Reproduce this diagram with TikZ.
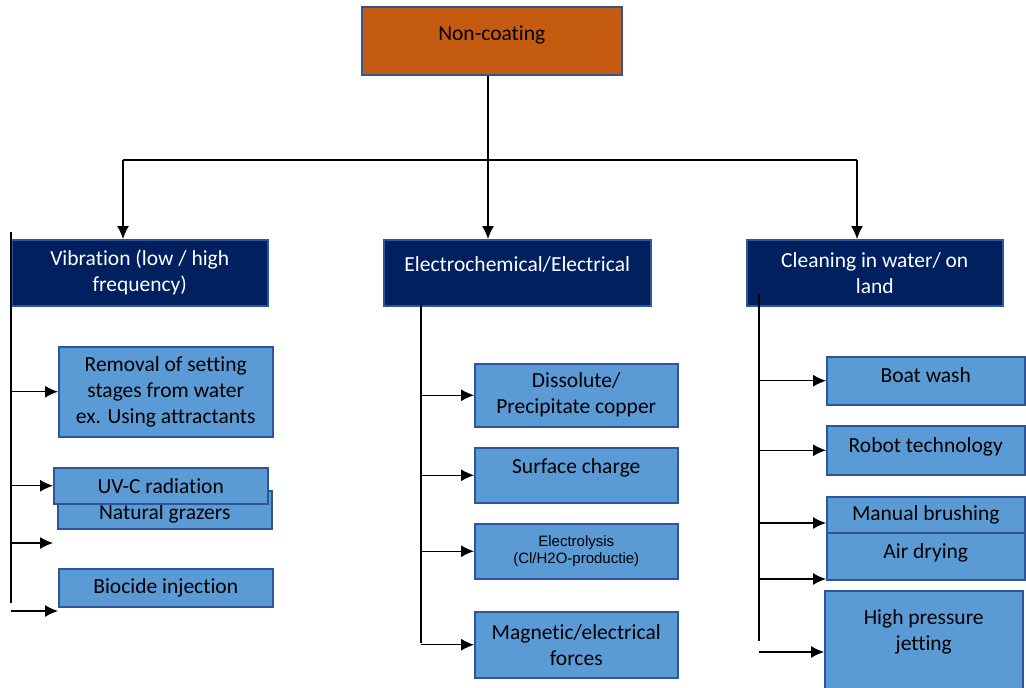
\documentclass[tikz,border=0pt]{standalone}
\usepackage{fontspec}
\setmainfont[Ligatures=NoCommon]{Carlito}
\newfontfamily\arialfont{Liberation Sans}
\usetikzlibrary{arrows.meta,positioning}

\definecolor{rootorange}{HTML}{C55A11}
\definecolor{navy}{HTML}{002060}
\definecolor{leafblue}{HTML}{5B9BD5}
\definecolor{boxline}{HTML}{2F5597}

\tikzset{
  box/.style={draw=boxline, line width=1.5pt, rectangle, anchor=north west,
    align=center, inner sep=0pt, font=\fontsize{21.5}{26}\selectfont},
  rootbox/.style={box, fill=rootorange, text=black},
  catbox/.style={box, fill=navy, text=white},
  leafbox/.style={box, fill=leafblue, text=black},
  ln/.style={line width=1.2pt},
  arr/.style={ln, -{Latex[length=13pt,width=12pt]}}
}

\begin{document}
\begin{tikzpicture}[x=1pt,y=-1pt]
        \path[fill=white,use as bounding box] (0,0) rectangle (1026,688);
        % top
        \node[rootbox, minimum width=260, minimum height=68, text depth=16pt] (root) at (361,6) {Non-coating};
        \node[catbox, minimum width=256, minimum height=66] (vib) at (11,239) {Vibration (low / high\\frequency)};
        \node[catbox, minimum width=267, minimum height=66, text depth=18pt] (elec) at (383,239) {Electrochemical/Electrical};
        \node[catbox, minimum width=256, minimum height=66] (clean) at (746,239) {Cleaning in water/ on\\land};
        % left column
        \node[leafbox, minimum width=214, minimum height=90] (removal) at (58,346) {Removal of setting\\stages from water\\ex. Using attractants};
        \node[leafbox, minimum width=214, minimum height=38, text height=23pt] (grazers) at (57,490) {Natural grazers};
        \node[leafbox, minimum width=214, minimum height=36] (uvc) at (53,467) {UV-C radiation};
        \node[leafbox, minimum width=214, minimum height=38] (biocide) at (58,568) {Biocide injection};
        % middle column
        \node[leafbox, minimum width=203, minimum height=63] (dissolute) at (474,363) {Dissolute/\\Precipitate copper};
        \node[leafbox, minimum width=203, minimum height=55, text depth=19pt] (surface) at (474,447) {Surface charge};
        \node[leafbox, minimum width=203, minimum height=55, font=\arialfont\fontsize{15}{17}\selectfont] (electrolysis) at (474,523) {Electrolysis\\(Cl/H2O-productie)};
        \node[leafbox, minimum width=203, minimum height=66] (magnetic) at (474,611) {Magnetic/electrical\\forces};
        % right column
        \node[leafbox, minimum width=198, minimum height=48, text depth=12pt] (boatwash) at (826,356) {Boat wash};
        \node[leafbox, minimum width=198, minimum height=49, text depth=11pt] (robot) at (826,425) {Robot technology};
        \node[leafbox, minimum width=198, minimum height=36] (manual) at (826,496) {Manual brushing};
        \node[leafbox, minimum width=198, minimum height=47, text depth=10pt] (airdry) at (826,532) {Air drying};
        \node[leafbox, minimum width=198, minimum height=104, text depth=25pt] (jetting) at (824,590) {High pressure\\jetting};

        % tree lines
        \coordinate (bus) at (488,160);
        \coordinate (busL) at (123,160);
        \coordinate (busR) at (857,160);
        \draw[ln] (bus |- root.south) -- (bus);
        \draw[ln] (busL) -- (busR);
        \draw[arr] (busL) -- (busL |- vib.north);
        \draw[arr] (bus) -- (bus |- elec.north);
        \draw[arr] (busR) -- (busR |- clean.north);

        \coordinate (lTop) at (11,232);
        \coordinate (lBot) at (11,603);
        \coordinate (lEnd) at (53,543);
        \coordinate (lStub) at (11,611);
        \draw[ln] (lTop) -- (lBot);
        \draw[arr] (lTop |- removal.west) -- (removal.west);
        \draw[arr] (lTop |- uvc.west) -- (uvc.west);
        \draw[arr] (lTop |- lEnd) -- (lEnd);
        \draw[arr] (lStub) -- (lStub -| biocide.west);

        \coordinate (mTop) at (421,305);
        \coordinate (mBot) at (421,643);
        \draw[ln] (mTop) -- (mBot);
        \draw[arr] (mTop |- dissolute.west) -- (dissolute.west);
        \draw[arr] (mTop |- surface.west) -- (surface.west);
        \draw[arr] (mTop |- electrolysis.west) -- (electrolysis.west);
        \draw[arr] (mTop |- magnetic.west) -- (magnetic.west);

        \coordinate (rTop) at (759,294);
        \coordinate (rBot) at (759,641);
        \coordinate (rBrush) at (826,523);
        \coordinate (rAir) at (826,579);
        \coordinate (rStub) at (759,652);
        \draw[ln] (rTop) -- (rBot);
        \draw[arr] (rTop |- boatwash.west) -- (boatwash.west);
        \draw[arr] (rTop |- robot.west) -- (robot.west);
        \draw[arr] (rTop |- rBrush) -- (rBrush);
        \draw[arr] (rTop |- rAir) -- (rAir);
        \draw[arr] (rStub) -- (rStub -| jetting.west);
      \end{tikzpicture}
\end{document}
